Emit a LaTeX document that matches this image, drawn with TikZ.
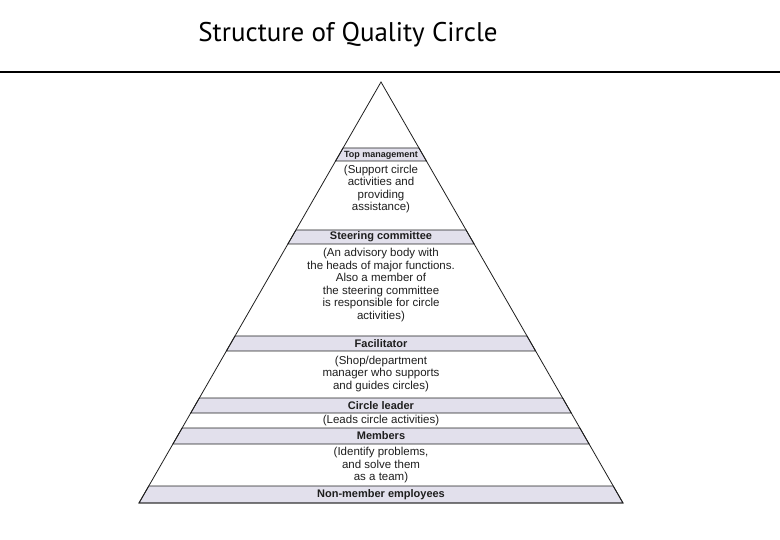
\documentclass[tikz,border=0pt]{standalone}
\usepackage{fontspec}
\setmainfont{Liberation Sans}
\newfontfamily\titlefont{PT Sans}
\definecolor{bandlilac}{RGB}{226, 224, 236}
\definecolor{inkgray}{RGB}{30, 30, 30}
\usetikzlibrary{positioning}

\begin{document}
\begin{tikzpicture}[x=1pt, y=-1pt,
    tierband/.style={fill=bandlilac, draw=inkgray, line width=0.8pt},
    tierlabel/.style={font=\fontsize{11}{13}\selectfont\bfseries, inner sep=0pt, text=inkgray},
    tiernote/.style={font=\fontsize{11.5}{12.5}\selectfont, align=center, inner sep=0pt, text=inkgray}]
  \useasboundingbox (0,0) rectangle (780,540);
  % title and rule
  \node[font=\titlefont\fontsize{27}{30}\selectfont, anchor=base] (title) at (348,42) {Structure of Quality Circle};
  \draw[line width=1.5pt] (0,72) -- (780,72);
  % shaded bands
  \foreach \t/\b in {148/161, 230/244, 336/351, 398/413, 428/444, 486/503}{
    \pgfmathsetmacro{\wt}{(\t-82)*0.5748}
    \pgfmathsetmacro{\wb}{(\b-82)*0.5748}
    \filldraw[tierband] (381-\wt,\t) -- (381+\wt,\t) -- (381+\wb,\b) -- (381-\wb,\b) -- cycle;
  }
  % pyramid outline
  \draw[inkgray, line width=0.8pt] (381,82) -- (139,503) -- (623,503) -- cycle;
  % tiers
  \node[tierlabel, font=\fontsize{9}{11}\selectfont\bfseries] (topmgmt) at (381,155) {Top management};
  \node[tiernote] (topnote) at (381,189) {(Support circle\\activities and\\providing\\assistance)};
  \node[tierlabel] (steering) at (381,237) {Steering committee};
  \node[tiernote] (steernote) at (381,285) {(An advisory body with\\the heads of major functions.\\Also a member of\\the steering committee\\is responsible for circle\\activities)};
  \node[tierlabel] (facil) at (381,343.5) {Facilitator};
  \node[tiernote] (facilnote) at (381,374) {(Shop/department\\manager who supports\\and guides circles)};
  \node[tierlabel] (leader) at (381,405.5) {Circle leader};
  \node[tiernote] (leadernote) at (381,420.5) {(Leads circle activities)};
  \node[tierlabel] (members) at (381,436) {Members};
  \node[tiernote] (membersnote) at (381,465.5) {(Identify problems,\\and solve them\\as a team)};
  \node[tierlabel] (nonmember) at (381,494.5) {Non-member employees};
\end{tikzpicture}
\end{document}
